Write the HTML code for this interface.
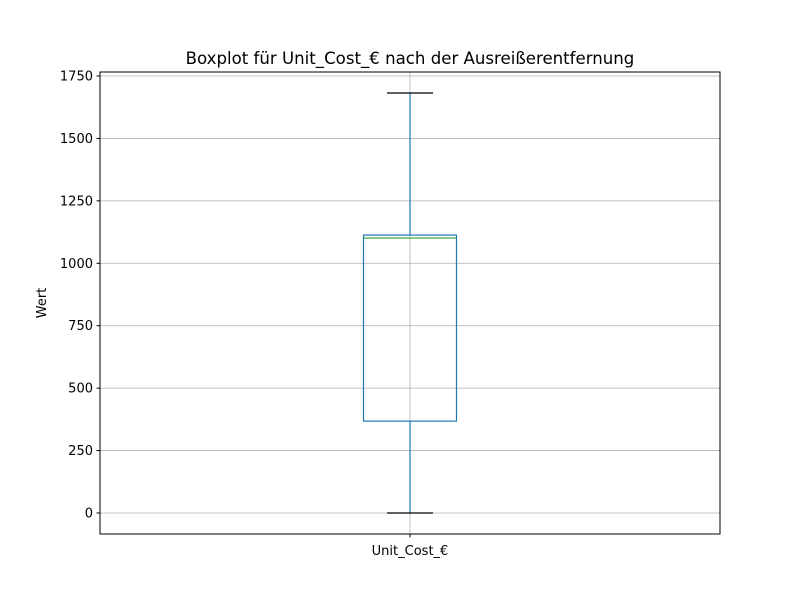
<!DOCTYPE html>
<html><head><meta charset="utf-8"><style>
body{margin:0;background:#fff;}
text{font-family:"DejaVu Sans","Liberation Sans",sans-serif;}
</style></head><body>
<svg id="chart" width="800" height="600" xmlns="http://www.w3.org/2000/svg">
<rect width="800" height="600" fill="#fff"/>
<text x="410" y="64" font-size="16.6" text-anchor="middle">Boxplot für Unit_Cost_€ nach der Ausreißerentfernung</text>
<text transform="translate(46,303) rotate(-90)" font-size="13" text-anchor="middle">Wert</text>
<g id="grid"></g>
<g id="marks"></g>
<rect x="100" y="72" width="620" height="462" fill="none" stroke="#000" stroke-width="1"/>
<g id="axes"></g>
</svg>
<script>
const categories = ["Unit_Cost_€"];
const whiskerLow = [0];
const q1 = [368];
const median = [1101];
const q3 = [1113];
const whiskerHigh = [1682];
const yTicks = [0, 250, 500, 750, 1000, 1250, 1500, 1750];

const NS = "http://www.w3.org/2000/svg";
const y0 = 513, pxPer = 437/1750;
const yS = v => y0 - v*pxPer;
const xS = i => 410;
function mk(tag, attrs, parent){const e=document.createElementNS(NS,tag);for(const k in attrs)e.setAttribute(k,attrs[k]);document.getElementById(parent).appendChild(e);return e;}

yTicks.forEach(t=>{
  const y=yS(t);
  const g=mk("line",{x1:100,x2:720,y1:y,y2:y,stroke:"#b0b0b0","stroke-width":0.8},"grid");
  
  
  const tk=mk("line",{x1:96.5,x2:100,y1:y,y2:y,stroke:"#000"},"axes");
  
  
  const tx=mk("text",{x:93,y:y+4.5,"font-size":13,"text-anchor":"end"},"axes");
  tx.textContent=t;
  
  
});
categories.forEach((c,i)=>{
  const x=xS(i);
  const vg=mk("line",{x1:x,x2:x,y1:72,y2:534,stroke:"#b0b0b0","stroke-width":0.8},"grid");
  
  
  const tk=mk("line",{x1:x,x2:x,y1:534,y2:537.5,stroke:"#000"},"axes");
  
  
  const tx=mk("text",{x:x,y:555,"font-size":13,"text-anchor":"middle"},"axes");
  tx.textContent=c;
  
  
  const w1=mk("line",{x1:x,x2:x,y1:yS(q1[i]),y2:yS(whiskerLow[i]),stroke:"#1f77b4","stroke-width":1.2},"marks");
  
  
  const w2=mk("line",{x1:x,x2:x,y1:yS(q3[i]),y2:yS(whiskerHigh[i]),stroke:"#1f77b4","stroke-width":1.2},"marks");
  
  
  const c1=mk("line",{x1:x-23,x2:x+23,y1:yS(whiskerLow[i]),y2:yS(whiskerLow[i]),stroke:"#000","stroke-width":1.2},"marks");
  
  
  const c2=mk("line",{x1:x-23,x2:x+23,y1:yS(whiskerHigh[i]),y2:yS(whiskerHigh[i]),stroke:"#000","stroke-width":1.2},"marks");
  
  
  const b=mk("rect",{x:x-46.5,width:93,y:yS(q3[i]),height:yS(q1[i])-yS(q3[i]),fill:"none",stroke:"#1f77b4","stroke-width":1.2},"marks");
  
  
  const m=mk("line",{x1:x-46.5,x2:x+46.5,y1:yS(median[i]),y2:yS(median[i]),stroke:"#2ca02c","stroke-width":1.2},"marks");
  
  
});
</script>
</body></html>
